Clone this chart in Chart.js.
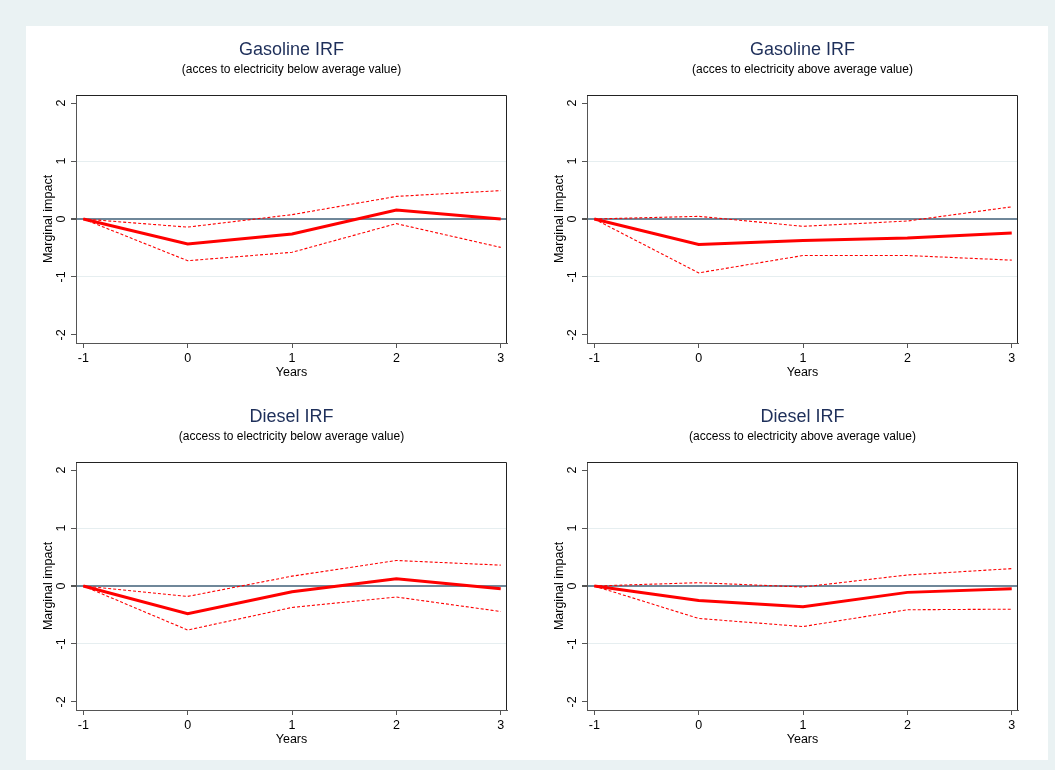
<!DOCTYPE html>
<html>
<head>
<meta charset="utf-8">
<script src="https://cdn.jsdelivr.net/npm/chart.js@4.4.0/dist/chart.umd.min.js"></script>
<style>
  body { margin: 0; background: #EAF2F3; }
  #wrap { position: relative; width: 1055px; height: 770px; background: #EAF2F3; }
  #inner { position: absolute; left: 26px; top: 26px; width: 1022px; height: 734px; background: #fff; }
  canvas { position: absolute; }
</style>
</head>
<body>
<div id="wrap">
  <div id="inner"></div>
  <canvas id="c1" width="500" height="367" style="left:26px;top:26px"></canvas>
  <canvas id="c2" width="500" height="367" style="left:537px;top:26px"></canvas>
  <canvas id="c3" width="500" height="367" style="left:26px;top:393px"></canvas>
  <canvas id="c4" width="500" height="367" style="left:537px;top:393px"></canvas>
</div>
<script>
var years = [-1, 0, 1, 2, 3];
var yTicks = [-2, -1, 0, 1, 2];

// gasoline, access to electricity below average
var gasBelowIrf = [0, -0.43, -0.26, 0.155, 0.0];
var gasBelowUp  = [0, -0.14, 0.075, 0.39, 0.49];
var gasBelowLo  = [0, -0.72, -0.575, -0.08, -0.49];

// gasoline, above average
var gasAboveIrf = [0, -0.44, -0.37, -0.33, -0.24];
var gasAboveUp  = [0, 0.046, -0.126, -0.035, 0.21];
var gasAboveLo  = [0, -0.93, -0.63, -0.63, -0.71];

// diesel, below average
var dieBelowIrf = [0, -0.48, -0.1, 0.126, -0.046];
var dieBelowUp  = [0, -0.18, 0.17, 0.44, 0.36];
var dieBelowLo  = [0, -0.76, -0.37, -0.19, -0.44];

// diesel, above average
var dieAboveIrf = [0, -0.25, -0.36, -0.11, -0.046];
var dieAboveUp  = [0, 0.057, -0.017, 0.19, 0.30];
var dieAboveLo  = [0, -0.56, -0.70, -0.41, -0.40];

var FONT = "'Liberation Sans', Arial, sans-serif";

function pts(vals) {
	var out = [];
	for (var i in years) out.push({x: years[i], y: vals[i]});
	return out;
}

// frame round the plot + rotated y tick labels (stata style)
var stataPlot = {
	id: 'stataPlot',
	afterDraw: function(chart) {
		var ctx = chart.ctx, a = chart.chartArea, ys = chart.scales.y;
		ctx.save();
		ctx.strokeStyle = '#222';
		ctx.lineWidth = 1;
		ctx.beginPath();
		ctx.moveTo(a.left, a.top + 0.5);
		ctx.lineTo(a.right - 0.5, a.top + 0.5);
		ctx.lineTo(a.right - 0.5, a.bottom);
		ctx.stroke();
		ctx.fillStyle = '#000';
		ctx.font = '12.5px ' + FONT;
		ctx.textAlign = 'center';
		ctx.textBaseline = 'middle';
		yTicks.forEach(function(v) {
			ctx.save();
			ctx.translate(a.left - 14, ys.getPixelForValue(v));
			ctx.rotate(-Math.PI / 2);
			ctx.fillText(String(v), 0, 0);
			ctx.restore();
		});
		ctx.restore();
	}
};

function makeChart(id, title, sub, irf, up, lo) {
	var ctx = document.getElementById(id);
	return new Chart(ctx, {
		type: 'line',
		data: {
			datasets: [
				{ data: pts(up), borderColor: '#ff0000', borderWidth: 1.1, borderDash: [3, 2], pointRadius: 0, tension: 0 },
				{ data: pts(lo), borderColor: '#ff0000', borderWidth: 1.1, borderDash: [3, 2], pointRadius: 0, tension: 0 },
				{ data: pts(irf), borderColor: '#ff0000', borderWidth: 3, pointRadius: 0, tension: 0 }
			]
		},
		options: {
			responsive: false,
			animation: false,
			layout: { padding: { left: 0, right: 19, top: 0, bottom: 0 } },
			plugins: {
				legend: { display: false },
				tooltip: { enabled: false },
				title: {
					display: true, text: title, color: '#1E2F5A', fullSize: false,
					font: { family: FONT, size: 18, weight: 'normal' },
					padding: { top: 13, bottom: 2 }
				},
				subtitle: {
					display: true, text: sub, color: '#000', fullSize: false,
					font: { family: FONT, size: 12 },
					padding: { top: 0, bottom: 18 }
				}
			},
			scales: {
				x: {
					type: 'linear', min: -1.07, max: 3.06,
					afterBuildTicks: function(s) { s.ticks = years.map(function(v) { return {value: v}; }); },
					afterFit: function(s) { s.height = 50; },
					grid: { drawOnChartArea: false, tickLength: 5, tickColor: '#555' },
					border: { color: '#555' },
					ticks: { color: '#000', font: { family: FONT, size: 12.5 }, padding: 3, maxRotation: 0 },
					title: { display: true, text: 'Years', color: '#000', font: { family: FONT, size: 12.5 }, padding: { top: 0, bottom: 13 } }
				},
				y: {
					type: 'linear', min: -2.14, max: 2.14,
					afterBuildTicks: function(s) { s.ticks = yTicks.map(function(v) { return {value: v}; }); },
					afterFit: function(s) { s.width = 50; },
					grid: {
						tickLength: 5, tickColor: '#555',
						color: function(c) {
							if (!c.tick) return 'rgba(0,0,0,0)';
							if (c.tick.value === 0) return '#6F8799';
							if (Math.abs(c.tick.value) === 1) return '#E6EEF0';
							return 'rgba(0,0,0,0)';
						},
						lineWidth: function(c) { return c.tick && c.tick.value === 0 ? 2 : 1; }
					},
					border: { color: '#555' },
					ticks: { display: false },
					title: { display: true, text: 'Marginal impact', color: '#000', font: { family: FONT, size: 12.5 }, padding: { top: 15, bottom: 0 } }
				}
			}
		},
		plugins: [stataPlot]
	});
}

makeChart('c1', 'Gasoline IRF', '(acces to electricity below average value)', gasBelowIrf, gasBelowUp, gasBelowLo);
makeChart('c2', 'Gasoline IRF', '(acces to electricity above average value)', gasAboveIrf, gasAboveUp, gasAboveLo);
makeChart('c3', 'Diesel IRF', '(access to electricity below average value)', dieBelowIrf, dieBelowUp, dieBelowLo);
makeChart('c4', 'Diesel IRF', '(access to electricity above average value)', dieAboveIrf, dieAboveUp, dieAboveLo);
</script>
</body>
</html>
